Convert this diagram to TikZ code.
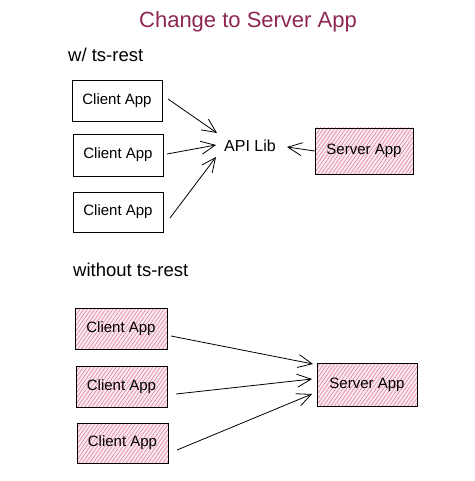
\documentclass[tikz,border=0pt]{standalone}
\usepackage{fontspec}
\setmainfont{Liberation Sans}
\usetikzlibrary{arrows.meta,patterns.meta}
\definecolor{titlecol}{HTML}{8E2653}
\definecolor{hatchfill}{HTML}{FAEAEF}
\definecolor{hatchline}{HTML}{E07C97}
\tikzset{
  plainbox/.style={draw=black,line width=0.9pt,minimum width=90pt,minimum height=41pt,inner sep=0pt,font=\fontsize{15}{17}\selectfont},
  hatchbox/.style={plainbox,preaction={fill=hatchfill},pattern={Lines[angle=55,distance=3pt,line width=0.55pt]},pattern color=hatchline},
  lbl/.style={font=\fontsize{18.5}{21}\selectfont,anchor=west,inner sep=0pt},
  conn/.style={line width=0.8pt,-{Straight Barb[length=14pt,width=13pt,line width=0.8pt]}}
}
\begin{document}
\begin{tikzpicture}[x=1pt,y=-1pt]
\useasboundingbox (0,0) rectangle (474,481);
\node[font=\fontsize{22}{25}\selectfont,text=titlecol] (title) at (248,22) {Change to Server App};
\node[lbl] (with) at (68,55) {w/ ts-rest};
\node[plainbox] (c1) at (117,100.5) {Client App};
\node[plainbox,minimum height=42pt] (c2) at (118,155) {Client App};
\node[plainbox,minimum height=40pt] (c3) at (118,212) {Client App};
\node[font=\fontsize{16}{18}\selectfont,inner sep=2pt] (api) at (250,146) {API Lib};
\node[hatchbox,minimum width=98pt,minimum height=46pt] (s1) at (364,151) {Server App};
\coordinate (a1s) at (168,99);
\coordinate (a1e) at (217,133);
\coordinate (a2s) at (167,154);
\coordinate (a2e) at (216,145);
\coordinate (a3s) at (170,218);
\coordinate (a3e) at (216,157);
\coordinate (a4e) at (287,147);
\draw[conn] (a1s) -- (a1e);
\draw[conn] (a2s) -- (a2e);
\draw[conn] (a3s) -- (a3e);
\draw[conn] (s1.west) -- (a4e);
\node[lbl] (without) at (73,270) {without ts-rest};
\node[hatchbox,minimum width=92pt] (d1) at (121,328.5) {Client App};
\node[hatchbox,minimum width=91pt] (d2) at (121.5,386.5) {Client App};
\node[hatchbox,minimum width=91pt,minimum height=40pt] (d3) at (122.5,443) {Client App};
\node[hatchbox,minimum width=100pt,minimum height=43pt] (s2) at (367,384.5) {Server App};
\coordinate (b1s) at (171,336);
\coordinate (b1e) at (313,364);
\coordinate (b2s) at (176,394);
\coordinate (b2e) at (312,379);
\coordinate (b3s) at (177,450);
\coordinate (b3e) at (312,394);
\draw[conn] (b1s) -- (b1e);
\draw[conn] (b2s) -- (b2e);
\draw[conn] (b3s) -- (b3e);
\end{tikzpicture}
\end{document}
